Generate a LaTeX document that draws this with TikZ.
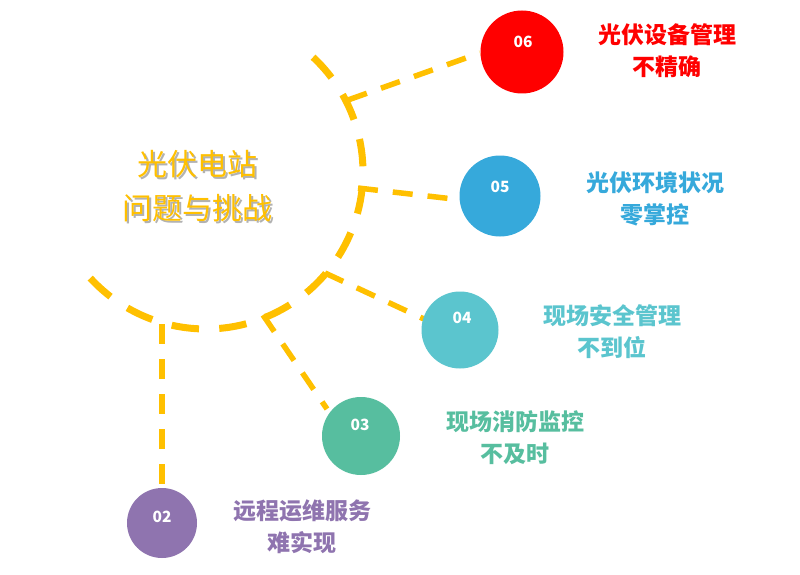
\documentclass[tikz,border=0pt]{standalone}
\usepackage{fontspec}
\newfontfamily\cjk{Noto Sans CJK SC}
\definecolor{ylw}{HTML}{FFC000}
\definecolor{csix}{HTML}{FF0000}
\definecolor{cfive}{HTML}{36A9DB}
\definecolor{cfour}{HTML}{5BC5CE}
\definecolor{cthree}{HTML}{57BE9F}
\definecolor{ctwo}{HTML}{8F74AF}
\newcommand{\shadowtxt}[1]{\makebox[0pt][l]{\kern2pt\raisebox{-2pt}{\textcolor{black!30}{#1}}}#1}
\tikzset{
  arcline/.style={draw=ylw, line width=7pt, dash pattern=on 27.5pt off 20.3pt},
  branch/.style={draw=ylw, line width=5.5pt, dash pattern=on 20pt off 15pt},
  dot/.style={circle, fill=#1, draw=none, inner sep=0pt},
  num/.style={text=white, font=\cjk\bfseries\fontsize{15.5}{17}\selectfont, inner sep=0pt},
  lbl/.style={text=#1, font=\cjk\bfseries\fontsize{23}{32}\selectfont, align=center, inner sep=0pt},
  ttl/.style={font=\cjk\fontsize{30}{44}\selectfont, align=center, inner sep=0pt}
}
\begin{document}
\begin{tikzpicture}[x=1pt,y=-1pt]
\useasboundingbox (0,0) rectangle (800,575);
\fill[white] (0,0) rectangle (800,575);
% main arc
\draw[arcline] plot[domain=-47:137.5, samples=120] ({206+157*cos(\x)},{172+157*sin(\x)});
% junctions and branch ends
\coordinate (j6) at (348,100);
\coordinate (j5) at (358,188);
\coordinate (j4) at (325,273);
\coordinate (j3) at (263,315);
\coordinate (j2) at (162,324);
\coordinate (e6) at (480,53);
\coordinate (e5) at (462,200);
\coordinate (e4) at (424,319);
\coordinate (e3) at (327,409);
\coordinate (e2) at (162,490);
\draw[branch] (j6) -- (e6);
\draw[branch] (j5) -- (e5);
\draw[branch] (j4) -- (e4);
\draw[branch] (j3) -- (e3);
\draw[branch] (j2) -- (e2);
% circles
\node[dot=csix, minimum size=83pt] (c6) at (522,52) {};
\node[dot=cfive, minimum size=81pt] (c5) at (500,196) {};
\node[dot=cfour, minimum size=77pt] (c4) at (460,330) {};
\node[dot=cthree, minimum size=78pt] (c3) at (361,436) {};
\node[dot=ctwo, minimum size=70pt] (c2) at (162,523) {};
\node[num] (n6) at (523,42) {06};
\node[num] (n5) at (500,187) {05};
\node[num] (n4) at (462,318) {04};
\node[num] (n3) at (360,425) {03};
\node[num] (n2) at (162,517) {02};
% labels
\node[lbl=csix] (t6) at (667,51) {光伏设备管理\\不精确};
\node[lbl=cfive] (t5) at (655,198.5) {光伏环境状况\\零掌控};
\node[lbl=cfour] (t4) at (612,332) {现场安全管理\\不到位};
\node[lbl=cthree] (t3) at (515,438) {现场消防监控\\不及时};
\node[lbl=ctwo] (t2) at (302,527) {远程运维服务\\难实现};
% title with soft text shadow
\node[ttl, text=ylw] (title) at (197,187) {\shadowtxt{光伏电站}\\\shadowtxt{问题与挑战}};
\end{tikzpicture}
\end{document}
